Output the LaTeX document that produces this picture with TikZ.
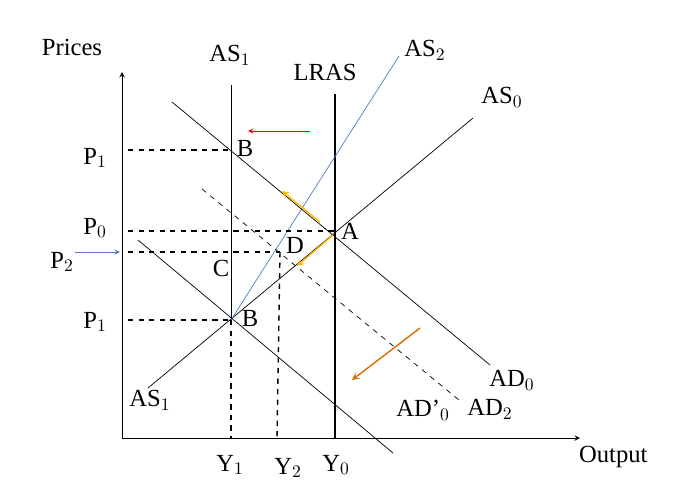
\documentclass[tikz,border=0pt]{standalone}
\usepackage{fontspec}
\setmainfont{Liberation Serif}
\usetikzlibrary{calc}
\definecolor{steel}{RGB}{80,125,200}

\begin{document}
\begin{tikzpicture}[x=0.02cm, y=-0.02cm, font=\fontsize{14}{16}\selectfont,
  guide/.style={thick, dashed},
  move/.style={->, >=stealth, thin},
  lbl/.style={inner sep=1pt}]
\useasboundingbox (0,0) rectangle (690,480);
% axes
\coordinate (O) at (122,438);
\coordinate (ytop) at (122,72);
\coordinate (xend) at (580,438);
\draw[->, >=stealth] (O) -- (ytop);
\draw[->, >=stealth] (O) -- (xend);
\node[lbl] (prices) at (72,47) {Prices};
\node[lbl, anchor=west] (output) at (577,457) {Output};

% key points
\coordinate (A) at (335,231);
\coordinate (Bt) at (231,150);
\coordinate (Bb) at (231,320);
\coordinate (D) at (280,252);

% supply curves
\draw (231,85) -- (Bb);
\draw[guide] (Bb) -- (231,438);
\draw[thick] (335,94) -- (335,438);
\draw (148,388) -- (473,118);
\draw[steel] (Bb) -- (399,56);

% demand curves
\draw (172,102) -- (490,365);
\draw (138,240) -- (393,453);
\draw[dashed] (202,189) -- (459,400);

% guide lines
\draw[guide] (128,150) -- (Bt);
\draw[guide] (128,231) -- (A);
\draw[guide] (128,252) -- (D);
\draw[guide] (128,320) -- (Bb);
\draw[guide] (D) -- (277,438);

% shift arrows
\draw[move, red] (310,131) -- (248,131);
\draw[move, orange!55!yellow, thick] (320,222) -- (282,191);
\draw[move, orange!55!yellow, thick] (333,235) -- (297,266);
\draw[move, orange!85!black, thick] (420,328) -- (352,380);
\draw[move, steel] (75,252) -- (120,252);

% labels
\node[lbl] (as1t) at (230,55) {AS$_1$};
\node[lbl] (lras) at (325,72) {LRAS};
\node[lbl] (as2) at (425,50) {AS$_2$};
\node[lbl] (as0) at (502,97) {AS$_0$};
\node[lbl] (p1t) at (95,158) {P$_1$};
\node[lbl] (p0) at (95,228) {P$_0$};
\node[lbl] (p2) at (62,262) {P$_2$};
\node[lbl] (p1b) at (95,322) {P$_1$};
\node[lbl] (lBt) at (245,148) {B};
\node[lbl] (lA) at (350,231) {A};
\node[lbl] (lD) at (295,245) {D};
\node[lbl] (lC) at (221,268) {C};
\node[lbl] (lBb) at (250,318) {B};
\node[lbl] (as1b) at (150,400) {AS$_1$};
\node[lbl] (ad0) at (512,380) {AD$_0$};
\node[lbl] (adp0) at (423,410) {AD'$_0$};
\node[lbl] (ad2) at (490,409) {AD$_2$};
\node[lbl] (y1) at (230,465) {Y$_1$};
\node[lbl] (y2) at (288,468) {Y$_2$};
\node[lbl] (y0) at (336,465) {Y$_0$};
\end{tikzpicture}
\end{document}
